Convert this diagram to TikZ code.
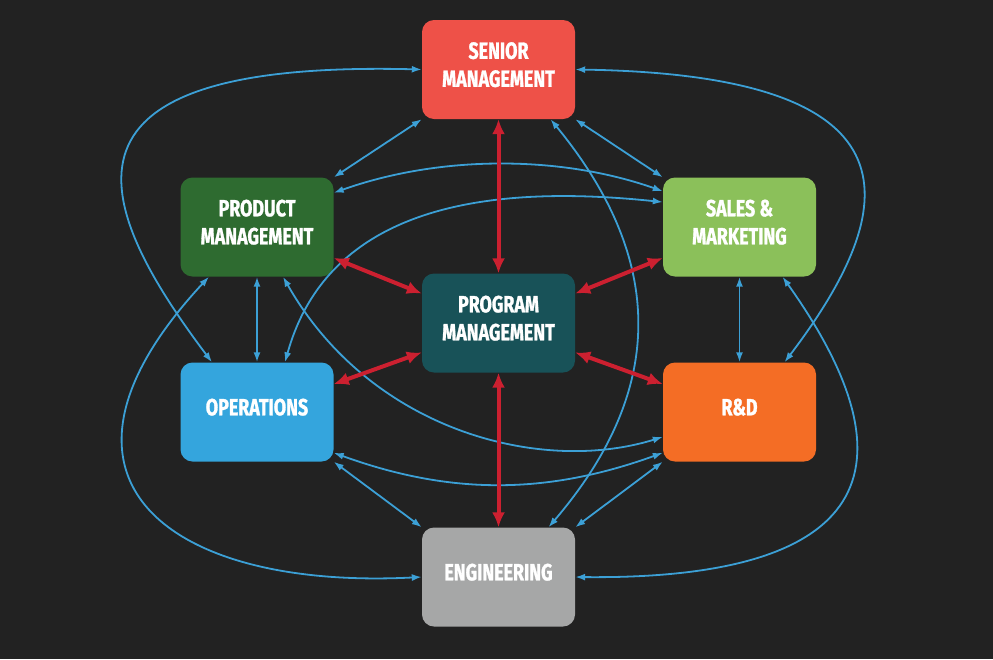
\documentclass[tikz,border=0pt]{standalone}
\usepackage{fontspec}
\newfontfamily\boxfont[FakeStretch=0.76,BoldFeatures={FakeBold=1.2}]{Fira Sans}
\usetikzlibrary{arrows.meta}
\definecolor{bgcol}{HTML}{222222}
\definecolor{smcol}{HTML}{EE5148}
\definecolor{pmcol}{HTML}{2E6B30}
\definecolor{snmcol}{HTML}{8BC05A}
\definecolor{pgmcol}{HTML}{185258}
\definecolor{opscol}{HTML}{34A5DD}
\definecolor{rndcol}{HTML}{F46D25}
\definecolor{engcol}{HTML}{A6A7A7}
\definecolor{linkblue}{HTML}{3CA0D6}
\definecolor{linkred}{HTML}{CC2030}
\begin{document}
\begin{tikzpicture}[x=1pt,y=-1pt,
    box/.style={rounded corners=12pt,minimum width=153pt,minimum height=99pt,
      text=white,align=center,text depth=10pt,inner sep=0pt,
      font={\boxfont\bfseries\fontsize{23.5}{28}\selectfont}},
    blink/.style={linkblue,line width=1.8pt,{Latex[length=10pt,width=7pt]}-{Latex[length=10pt,width=7pt]}},
    rlink/.style={linkred,line width=4pt,{Latex[length=15pt,width=13pt]}-{Latex[length=15pt,width=13pt]}}]
  % background
  \fill[bgcol] (0,0) rectangle (993,659);
  \useasboundingbox (0,0) rectangle (993,659);
  % the seven groups
  \node[box,fill=smcol]  (sm)  at (498.5,69.5) {SENIOR\\MANAGEMENT};
  \node[box,fill=pmcol]  (pm)  at (257,227)    {PRODUCT\\MANAGEMENT};
  \node[box,fill=snmcol] (snm) at (739.5,227)  {SALES \&\\MARKETING};
  \node[box,fill=pgmcol] (pgm) at (498.5,323)  {PROGRAM\\MANAGEMENT};
  \node[box,fill=opscol] (ops) at (257,412)    {OPERATIONS};
  \node[box,fill=rndcol] (rnd) at (739.5,412)  {R\&D};
  \node[box,fill=engcol] (eng) at (498.5,577)  {ENGINEERING};
  % straight blue links
  \foreach \a/\b in {sm.south west/pm.north east, sm.south east/snm.north west,
      pm.south/ops.north, snm.south/rnd.north,
      ops.south east/eng.north west, rnd.south west/eng.north east}{
    \draw[blink] (\a) -- (\b);
  }
  % curved blue links
  \draw[blink] (sm.west) .. controls (40,60) and (90,200) .. ([xshift=-45pt]ops.north);
  \draw[blink] (sm.east) .. controls (930,75) and (900,210) .. ([xshift=45pt]rnd.north);
  \draw[blink] ([xshift=52pt]sm.south) .. controls (666,260) and (666,390) .. ([xshift=50pt]eng.north);
  \draw[blink] (pm.24) .. controls (440,155) and (560,155) .. (snm.155);
  \draw[blink] ([xshift=28pt]ops.north) .. controls (330,200) and (500,185) .. (snm.162);
  \draw[blink] ([xshift=26pt]pm.south) .. controls (370,430) and (540,475) .. (rnd.198);
  \draw[blink] ([xshift=-48pt]pm.south) .. controls (20,480) and (170,590) .. (eng.west);
  \draw[blink] ([xshift=43pt]snm.south) .. controls (920,470) and (870,580) .. (eng.east);
  \draw[blink] (ops.-28) .. controls (450,495) and (546,495) .. (rnd.208);
  % red links to program management
  \foreach \a/\b in {sm.south/pgm.north, pm.-22/pgm.159, snm.-158/pgm.21,
      ops.20/pgm.201, rnd.160/pgm.-21, eng.north/pgm.south}{
    \draw[rlink] (\a) -- (\b);
  }
\end{tikzpicture}
\end{document}
